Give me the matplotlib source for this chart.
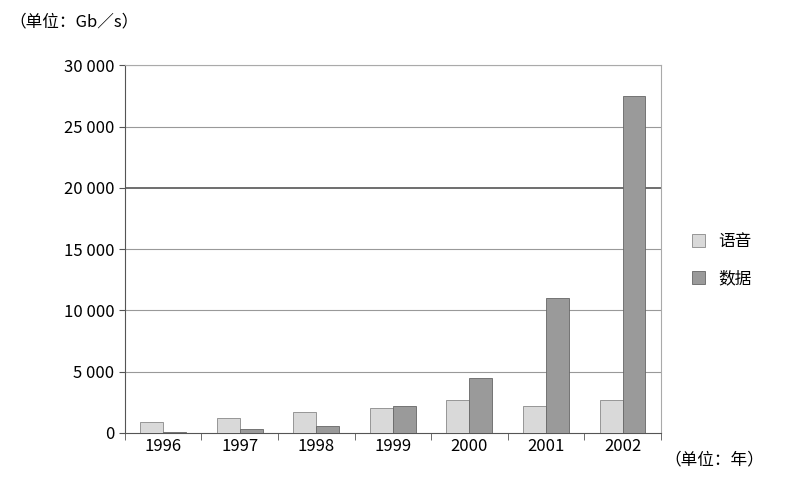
import matplotlib
matplotlib.use("Agg")
import matplotlib.pyplot as plt
import numpy as np

plt.rcParams['font.family'] = ['Noto Sans CJK SC', 'DejaVu Sans']

years = ["1996", "1997", "1998", "1999", "2000", "2001", "2002"]
voice = [900, 1200, 1700, 2000, 2700, 2200, 2700]
data = [100, 300, 600, 2200, 4500, 11000, 27500]
yticks = [0, 5000, 10000, 15000, 20000, 25000, 30000]
ytick_labels = ["0", "5 000", "10 000", "15 000", "20 000", "25 000", "30 000"]

fig = plt.figure(figsize=(8, 4.87), dpi=100)
ax = fig.add_axes([0.156, 0.111, 0.67, 0.755])

x = np.arange(len(years))
w = 0.3
ax.bar(x - w / 2, voice, w, color="#d9d9d9", edgecolor="#888888", linewidth=0.6, label="语音", zorder=3)
ax.bar(x + w / 2, data, w, color="#9a9a9a", edgecolor="#666666", linewidth=0.6, label="数据", zorder=3)

ax.set_xlim(-0.5, len(years) - 0.5)
ax.set_ylim(0, 30000)
ax.set_yticks(yticks)
ax.set_yticklabels(ytick_labels)
ax.set_xticks(x)
ax.set_xticklabels(years)
ax.set_xticks(np.arange(-0.5, len(years)), minor=True)
ax.tick_params(axis="x", which="major", length=0, labelsize=12)
ax.tick_params(axis="x", which="minor", length=5, color="#555555")
ax.tick_params(axis="y", labelsize=12, length=4, color="#555555")
for t in yticks[1:]:
    ax.axhline(t, color="#555555" if t == 20000 else "#999999",
               linewidth=1.2 if t == 20000 else 0.8, zorder=1)
for s in ["top", "right"]:
    ax.spines[s].set_color("#aaaaaa")
for s in ["left", "bottom"]:
    ax.spines[s].set_color("#555555")

ax.legend(loc="center left", bbox_to_anchor=(1.03, 0.47), frameon=False,
          fontsize=12, handlelength=0.8, handleheight=0.8, labelspacing=1.2)

fig.text(0.012, 0.955, "（单位：Gb／s）", fontsize=12, va="center")
fig.text(0.83, 0.055, "（单位：年）", fontsize=12, va="center")

fig.savefig("out.png", dpi=100)
